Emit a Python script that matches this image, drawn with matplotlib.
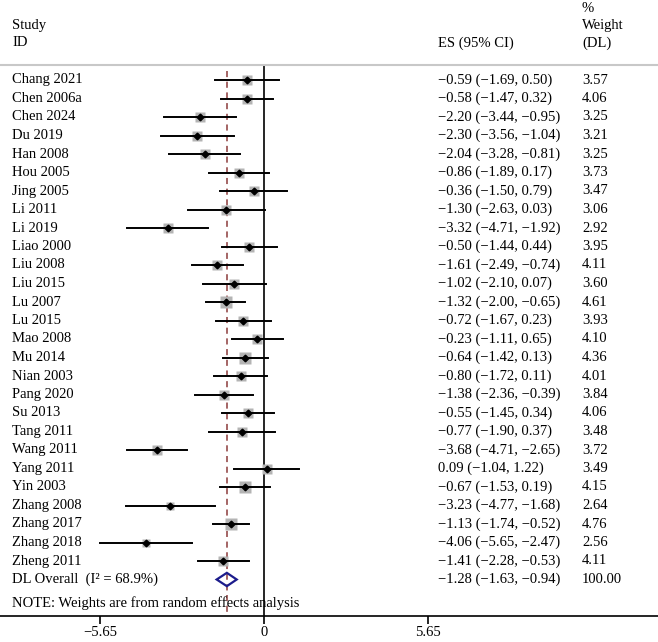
import numpy as np
import matplotlib
matplotlib.use("Agg")
import matplotlib.pyplot as plt
from matplotlib.patches import Polygon

plt.rcParams['font.family'] = ['Liberation Serif', 'DejaVu Serif']
plt.rcParams['font.size'] = 10.5

studies = ["Chang 2021", "Chen 2006a", "Chen 2024", "Du 2019", "Han 2008", "Hou 2005",
           "Jing 2005", "Li 2011", "Li 2019", "Liao 2000", "Liu 2008", "Liu 2015",
           "Lu 2007", "Lu 2015", "Mao 2008", "Mu 2014", "Nian 2003", "Pang 2020",
           "Su 2013", "Tang 2011", "Wang 2011", "Yang 2011", "Yin 2003", "Zhang 2008",
           "Zhang 2017", "Zhang 2018", "Zheng 2011"]
es = [-0.59, -0.58, -2.20, -2.30, -2.04, -0.86, -0.36, -1.30, -3.32, -0.50, -1.61, -1.02,
      -1.32, -0.72, -0.23, -0.64, -0.80, -1.38, -0.55, -0.77, -3.68, 0.09, -0.67, -3.23,
      -1.13, -4.06, -1.41]
lo = [-1.69, -1.47, -3.44, -3.56, -3.28, -1.89, -1.50, -2.63, -4.71, -1.44, -2.49, -2.10,
      -2.00, -1.67, -1.11, -1.42, -1.72, -2.36, -1.45, -1.90, -4.71, -1.04, -1.53, -4.77,
      -1.74, -5.65, -2.28]
hi = [0.50, 0.32, -0.95, -1.04, -0.81, 0.17, 0.79, 0.03, -1.92, 0.44, -0.74, 0.07,
      -0.65, 0.23, 0.65, 0.13, 0.11, -0.39, 0.34, 0.37, -2.65, 1.22, 0.19, -1.68,
      -0.52, -2.47, -0.53]
weight = [3.57, 4.06, 3.25, 3.21, 3.25, 3.73, 3.47, 3.06, 2.92, 3.95, 4.11, 3.60,
          4.61, 3.93, 4.10, 4.36, 4.01, 3.84, 4.06, 3.48, 3.72, 3.49, 4.15, 2.64,
          4.76, 2.56, 4.11]
overall_label = "DL Overall  (I\u00b2 = 68.9%)"
overall_es, overall_lo, overall_hi, overall_w = -1.28, -1.63, -0.94, 100.00
xticks = [-5.65, 0, 5.65]


def fmt(v):
    return f"{v:.2f}".replace("-", "\u2212")


fig = plt.figure(figsize=(6.58, 6.42), dpi=100)
ax = fig.add_axes([0, 26 / 642, 1, 616 / 642])

n = len(studies)
ax.set_xlim(-264 / 29.03, (658 - 264) / 29.03)
ax.set_ylim((616 - 80) / 18.5, -80 / 18.5)

tr = ax.get_yaxis_transform()  # x in axes fraction, y in data

# reference lines
ax.plot([0, 0], [-0.81, 29], color='black', lw=1.2, zorder=1)
ax.plot([overall_es, overall_es], [-0.5, 29], color='#8b3a3a', lw=1.1,
        ls=(0, (4, 3)), zorder=1)
ax.plot([0, 1], [-0.81, -0.81], color='#c8c8c8', lw=1.5, transform=tr, clip_on=False)

# study estimates
for i in range(n):
    ax.plot(es[i], i, marker='s', color='#b4b4b4', ms=5.4 * np.sqrt(weight[i]) * 0.72,
            mec='none', zorder=2)
    ax.plot([lo[i], hi[i]], [i, i], color='black', lw=1.4, zorder=3)
    ax.plot(es[i], i, marker='D', color='black', ms=3.4, zorder=4)

# overall diamond
yo = n
diamond = Polygon([[overall_lo, yo], [overall_es, yo - 0.36], [overall_hi, yo],
                   [overall_es, yo + 0.36]], closed=True, fill=False,
                  edgecolor='#1c1c8c', lw=1.6, zorder=4)
ax.add_patch(diamond)

# text columns
for i in range(n):
    ax.text(12 / 658, i, studies[i], transform=tr, va='center', ha='left')
    ax.text(438 / 658, i, f"{fmt(es[i])} ({fmt(lo[i])}, {fmt(hi[i])})",
            transform=tr, va='center', ha='left')
    ax.text(582 / 658, i, f"{weight[i]:.2f}", transform=tr, va='center', ha='left')
ax.text(12 / 658, yo, overall_label, transform=tr, va='center', ha='left')
ax.text(438 / 658, yo, f"{fmt(overall_es)} ({fmt(overall_lo)}, {fmt(overall_hi)})",
        transform=tr, va='center', ha='left')
ax.text(582 / 658, yo, f"{overall_w:.2f}", transform=tr, va='center', ha='left')
ax.text(12 / 658, 28.3, "NOTE: Weights are from random effects analysis",
        transform=tr, va='center', ha='left')

# headers
ax.text(12 / 658, -2.97, "Study", transform=tr, va='center', ha='left')
ax.text(12 / 658, -2.0, "ID", transform=tr, va='center', ha='left')
ax.text(438 / 658, -2.0, "ES (95% CI)", transform=tr, va='center', ha='left')
ax.text(582 / 658, -3.84, "%", transform=tr, va='center', ha='left')
ax.text(582 / 658, -2.92, "Weight", transform=tr, va='center', ha='left')
ax.text(582 / 658, -2.0, "(DL)", transform=tr, va='center', ha='left')

for s in ['top', 'left', 'right']:
    ax.spines[s].set_visible(False)
ax.spines['bottom'].set_linewidth(1.2)
ax.set_yticks([])
ax.set_xticks(xticks)
ax.set_xticklabels([fmt(t) if t != 0 else "0" for t in xticks])
ax.tick_params(axis='x', length=6, width=1.2, pad=1.5)

fig.savefig("out.png", dpi=100)
